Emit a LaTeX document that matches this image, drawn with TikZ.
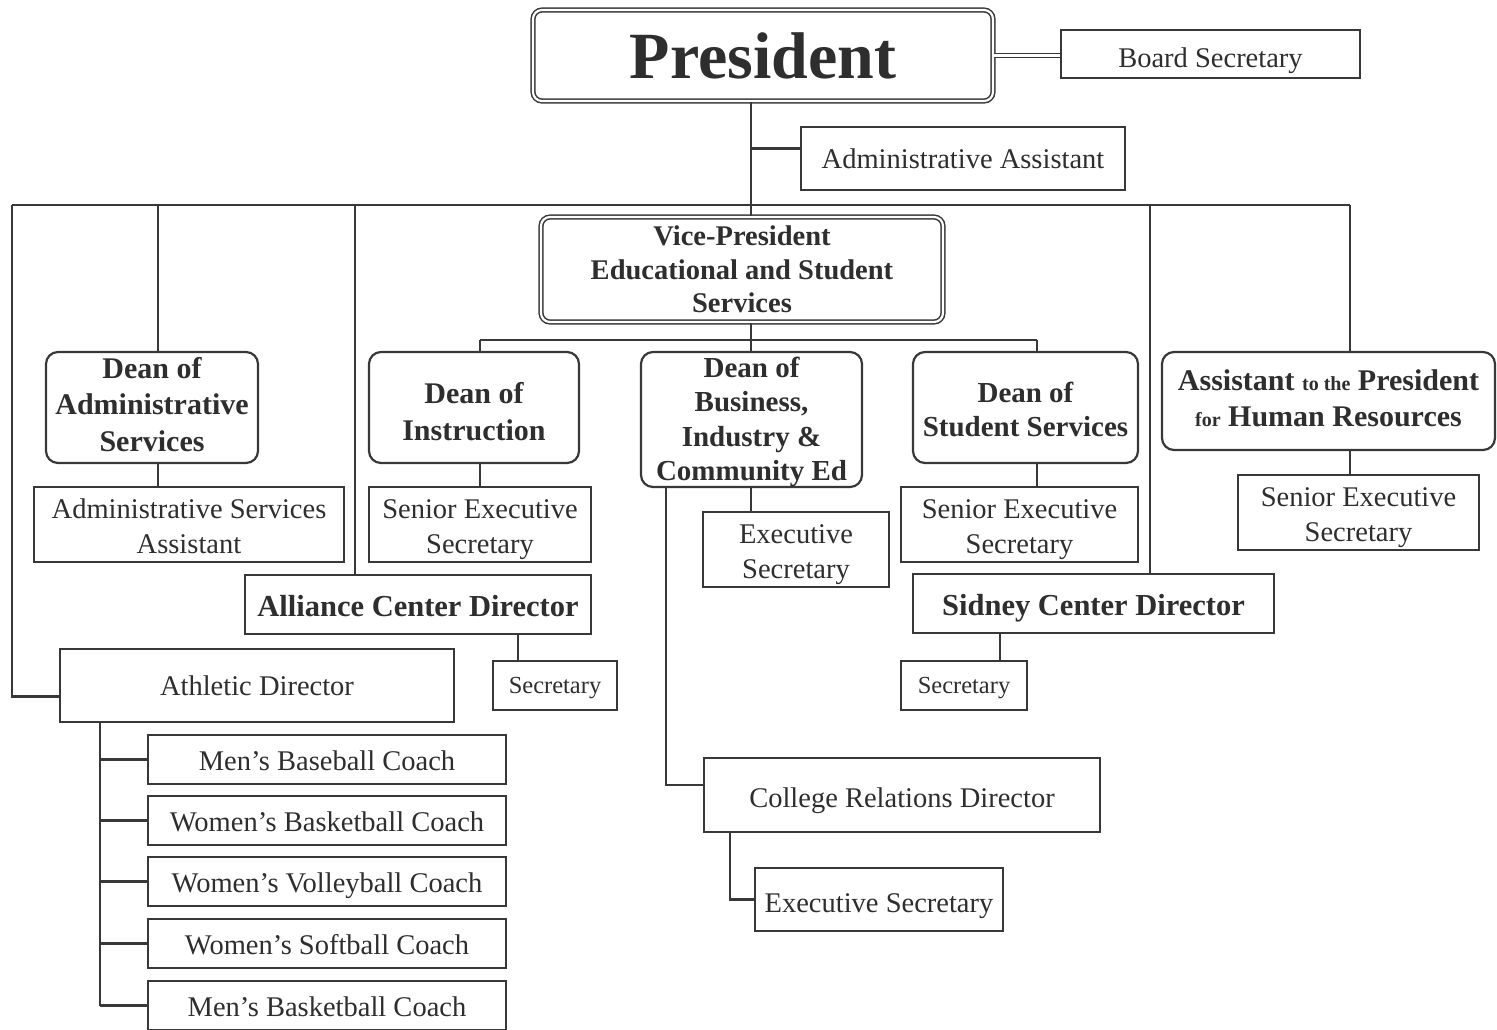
\documentclass[tikz,border=0pt]{standalone}
\usepackage{fontspec}
\setmainfont{Liberation Serif}
\usetikzlibrary{calc}
\begin{document}
\begin{tikzpicture}[x=1pt,y=-1pt,
  sz/.style 2 args={minimum width=#1pt, minimum height=#2pt},
  th/.style 2 args={text height=#1pt, text depth=#2pt},
  box/.style={draw=black!78, line width=2.2pt, rectangle, inner sep=0pt,
    align=center, text=black!82, font=\fontsize{28.5}{35}\selectfont},
  two/.style={box, th={64}{6}},
  smallbox/.style={box, font=\fontsize{24.5}{30}\selectfont, th={21}{6}},
  dean/.style={box, rounded corners=12pt, font=\bfseries\fontsize{30}{36.5}\selectfont},
  boldbox/.style={box, font=\bfseries\fontsize{30.5}{36}\selectfont, th={31.5}{7}},
  coach/.style={box, sz={358}{49}, th={28}{7}},
  dbl/.style={box, double=white, double distance=2.2pt, line width=1.5pt, rounded corners=9pt},
  dblline/.style={draw=black!78, double=white, double distance=2.2pt, line width=1.4pt},
  link/.style={draw=black!78, line width=2.2pt},
]
\useasboundingbox (0,0) rectangle (1497,1029);
\fill[white] (0,0) rectangle (1497,1029);

% --- top level ---
\node[dbl, sz={460}{91}, font=\bfseries\fontsize{66}{70}\selectfont] (pres) at (763,55.5) {President};
\node[box, sz={299}{48}, th={34}{7}] (board) at (1210.5,54) {Board Secretary};
\node[box, sz={324}{63}] (aa) at (963,158.5) {Administrative Assistant};
\node[dbl, sz={402}{105}, font=\bfseries\fontsize{28.5}{33.5}\selectfont] (vp) at (742,269.5)
  {Vice-President\\Educational and Student\\Services};

% --- deans and their staff ---
\node[dean, sz={212}{111}, th={87}{0}] (dadm) at (152,407.5) {Dean of\\Administrative\\Services};
\node[two, sz={310}{75}] (asa) at (189,524.5) {Administrative Services\\Assistant};
\node[dean, sz={210}{111}, th={65}{0}] (dins) at (474,407.5) {Dean of\\Instruction};
\node[two, sz={222}{75}] (sins) at (480,524.5) {Senior Executive\\Secretary};
\node[dean, sz={221}{135}, font=\bfseries\fontsize{29}{34.5}\selectfont, th={128.5}{6}] (dbus) at (751.5,419.5)
  {Dean of\\Business,\\Industry \&\\Community Ed};
\node[two, sz={186}{75}] (ebus) at (796,549.5) {Executive\\Secretary};
\node[dean, sz={225}{111}, font=\bfseries\fontsize{29}{34}\selectfont, th={58}{0}] (dstu) at (1025.5,407.5)
  {Dean of\\Student Services};
\node[two, sz={237}{75}] (sstu) at (1019.5,524.5) {Senior Executive\\Secretary};
\node[dean, sz={333}{98}, font=\bfseries\fontsize{30}{36}\selectfont, th={50}{0}] (hr) at (1328.5,401)
  {Assistant {\fontsize{20}{24}\selectfont to the} President\\{\fontsize{20}{24}\selectfont for} Human Resources};
\node[two, sz={241}{75}] (shr) at (1358.5,512.5) {Senior Executive\\Secretary};

% --- centers ---
\node[boldbox, sz={346}{59}] (alc) at (418,604.5) {Alliance Center Director};
\node[smallbox, sz={124}{49}] (salc) at (555,685.5) {Secretary};
\node[boldbox, sz={361}{59}] (sid) at (1093.5,603.5) {Sidney Center Director};
\node[smallbox, sz={126}{49}] (ssid) at (964,685.5) {Secretary};

% --- athletics ---
\node[box, sz={394}{73}] (ath) at (257,685.5) {Athletic Director};
\node[coach] (c1) at (327,759.5) {Men’s Baseball Coach};
\node[coach] (c2) at (327,820.5) {Women’s Basketball Coach};
\node[coach] (c3) at (327,881.5) {Women’s Volleyball Coach};
\node[coach] (c4) at (327,943.5) {Women’s Softball Coach};
\node[coach] (c5) at (327,1005.5) {Men’s Basketball Coach};

% --- college relations ---
\node[box, sz={396}{74}, th={31}{7}] (crd) at (902,795) {College Relations Director};
\node[box, sz={248}{63}, th={32}{7}] (es2) at (879,899.5) {Executive Secretary};

% --- connector columns and buses ---
\coordinate (tx) at (751,205);
\coordinate (busL) at (12,205);
\coordinate (busR) at (1350,205);
\coordinate (dA) at (158,205);
\coordinate (dAl) at (355,205);
\coordinate (dSi) at (1150,205);
\coordinate (vb) at (751,340);
\coordinate (vbL) at (480,340);
\coordinate (vbR) at (1037,340);
\coordinate (bx) at (666,0);
\coordinate (cx) at (730,0);
\coordinate (alx) at (518,0);
\coordinate (six) at (1000,0);
\coordinate (atx) at (100,0);
\coordinate (aaL) at ($(aa.west)+(0,-10)$);
\coordinate (athL) at ($(ath.west)+(0,11)$);
\coordinate (crdL) at ($(crd.west)+(0,-10)$);

% president links
\draw[dblline] (pres.east) -- (pres.east -| board.west);
\draw[link] (pres.south -| tx) -- (vp.north -| tx);
\draw[link] (aaL -| tx) -- (aaL);

% main bus and its drops
\draw[link] (busL) -- (busR);
\draw[link] (busL) |- (athL);
\draw[link] (dA) -- (dA |- dadm.north);
\draw[link] (dAl) -- (dAl |- alc.north);
\draw[link] (dSi) -- (dSi |- sid.north);
\draw[link] (busR) -- (busR |- hr.north);

% vice-president bus
\draw[link] (vp.south -| vb) -- (vb);
\draw[link] (vbL) -- (vbR);
\draw[link] (vbL) -- (vbL |- dins.north);
\draw[link] (vb) -- (vb |- dbus.north);
\draw[link] (vbR) -- (vbR |- dstu.north);

% staff links
\draw[link] (dA |- dadm.south) -- (dA |- asa.north);
\draw[link] (vbL |- dins.south) -- (vbL |- sins.north);
\draw[link] (vb |- dbus.south) -- (vb |- ebus.north);
\draw[link] (vbR |- dstu.south) -- (vbR |- sstu.north);
\draw[link] (busR |- hr.south) -- (busR |- shr.north);
\draw[link] (alx |- alc.south) -- (alx |- salc.north);
\draw[link] (six |- sid.south) -- (six |- ssid.north);

% college relations
\draw[link] (bx |- dbus.south) |- (crdL);
\draw[link] (cx |- crd.south) |- (es2.west);

% coaches
\draw[link] (atx |- ath.south) -- (atx |- c5.west);
\foreach \c in {c1,c2,c3,c4,c5} \draw[link] (atx |- \c.west) -- (\c.west);
\end{tikzpicture}
\end{document}
